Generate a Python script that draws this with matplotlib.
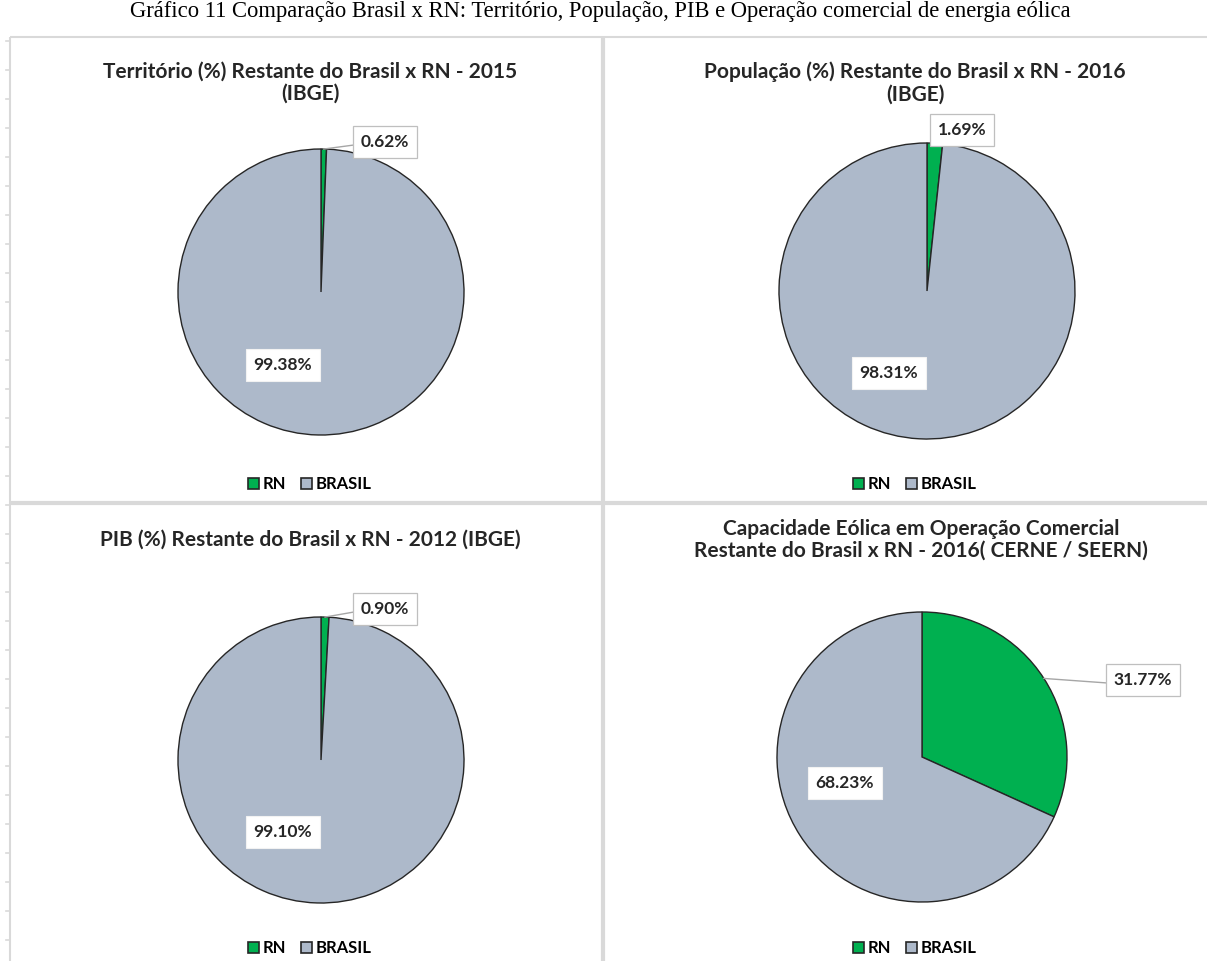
import math
import matplotlib
matplotlib.use("Agg")
import matplotlib.pyplot as plt
from matplotlib.patches import Patch

W, H = 1207, 961
DPI = 100

fig_title = "Gráfico 11 Comparação Brasil x RN: Território, População, PIB e Operação comercial de energia eólica"
panel_titles = [
    "Território (%) Restante do Brasil x RN - 2015\n(IBGE)",
    "População (%) Restante do Brasil x RN - 2016\n(IBGE)",
    "PIB (%) Restante do Brasil x RN - 2012 (IBGE)",
    "Capacidade Eólica em Operação Comercial\nRestante do Brasil x RN - 2016( CERNE / SEERN)",
]
series_names = ["RN", "BRASIL"]
rn_share = [0.62, 1.69, 0.90, 31.77]
brasil_share = [99.38, 98.31, 99.10, 68.23]

GREEN = "#00B050"
GRAY = "#ADB9CA"
EDGE = "#262626"
GRID = "#D9D9D9"
FONT = ["Lato", "DejaVu Sans"]

# layout in pixels (x from left, y from top)
pie_center = [(321, 292), (927, 291), (321, 760), (922, 757)]
pie_radius = [143, 148, 143, 145]
title_pos = [(310, 83), (915, 83), (310, 540), (921, 540)]
legend_pos = [(310, 484), (915, 484), (310, 948), (915, 948)]
rn_label_pos = [(385, 142), (962, 130), (385, 609), (1143, 680)]
br_label_pos = [(283, 365), (889, 373), (283, 832), (845, 783)]

fig = plt.figure(figsize=(W / DPI, H / DPI), dpi=DPI)

# overlay axes in pixel units, kept above the pies
bg = fig.add_axes([0, 0, 1, 1])
bg.set_xlim(0, W)
bg.set_ylim(H, 0)
bg.axis("off")
bg.set_zorder(10)

bg.text(600, 12, fig_title, ha="center", va="center",
        fontsize=16.3, family="Liberation Serif", color="black")

# panel frame lines
bg.plot([10, W], [37, 37], color=GRID, lw=1.5, solid_capstyle="butt")
bg.plot([10, 10], [37, H], color=GRID, lw=1.5, solid_capstyle="butt")
bg.plot([603, 603], [37, H], color=GRID, lw=3, solid_capstyle="butt")
bg.plot([10, W], [503, 503], color=GRID, lw=3, solid_capstyle="butt")
for ty in range(41, H, 29):
    bg.plot([6, 10], [ty, ty], color=GRID, lw=1.2)

for i in range(4):
    cx, cy = pie_center[i]
    r = pie_radius[i]
    pad = 1.04
    size = 2 * r * pad
    ax = fig.add_axes([(cx - size / 2) / W, (H - cy - size / 2) / H, size / W, size / H])
    ax.pie([rn_share[i], brasil_share[i]], colors=[GREEN, GRAY], startangle=90,
           counterclock=False, radius=1,
           wedgeprops=dict(edgecolor=EDGE, linewidth=1.0))
    ax.set_xlim(-pad, pad)
    ax.set_ylim(-pad, pad)
    ax.set_aspect("equal")
    ax.axis("off")

    tx, ty = title_pos[i]
    bg.text(tx, ty, panel_titles[i], ha="center", va="center", fontsize=15,
            fontweight="bold", family=FONT, color="#262626", linespacing=1.12)

    # callout for the RN slice
    mid = math.radians(90 - rn_share[i] / 100 * 180)
    sx, sy = cx + r * math.cos(mid), cy - r * math.sin(mid)
    lx, ly = rn_label_pos[i]
    lbl = f"{rn_share[i]:.2f}%"
    bg.text(lx, ly, lbl, ha="center", va="center",
            fontsize=12.5, fontweight="bold", family=FONT, color="#262626",
            bbox=dict(boxstyle="square,pad=0.45", fc="white", ec="#BFBFBF", lw=0.9),
            zorder=5)
    half_w = 4.6 * len(lbl) + 8
    bg.plot([sx, lx - half_w], [sy, ly + 3], color="#A6A6A6", lw=1.0, zorder=4)

    bx, by = br_label_pos[i]
    bg.text(bx, by, f"{brasil_share[i]:.2f}%", ha="center", va="center",
            fontsize=12.5, fontweight="bold", family=FONT, color="#262626",
            bbox=dict(boxstyle="square,pad=0.45", fc="white", ec="#F2F2F2", lw=0.8),
            zorder=5)

    handles = [Patch(facecolor=GREEN, edgecolor=EDGE, lw=1.2),
               Patch(facecolor=GRAY, edgecolor=EDGE, lw=1.2)]
    gx, gy = legend_pos[i]
    fig.legend(handles, series_names, loc="center", bbox_to_anchor=(gx / W, 1 - gy / H),
               ncol=2, frameon=False, handlelength=0.62, handleheight=0.62,
               handletextpad=0.25, columnspacing=0.9,
               prop=dict(family=FONT, weight="bold", size=12))

fig.savefig("out.png", dpi=DPI)
